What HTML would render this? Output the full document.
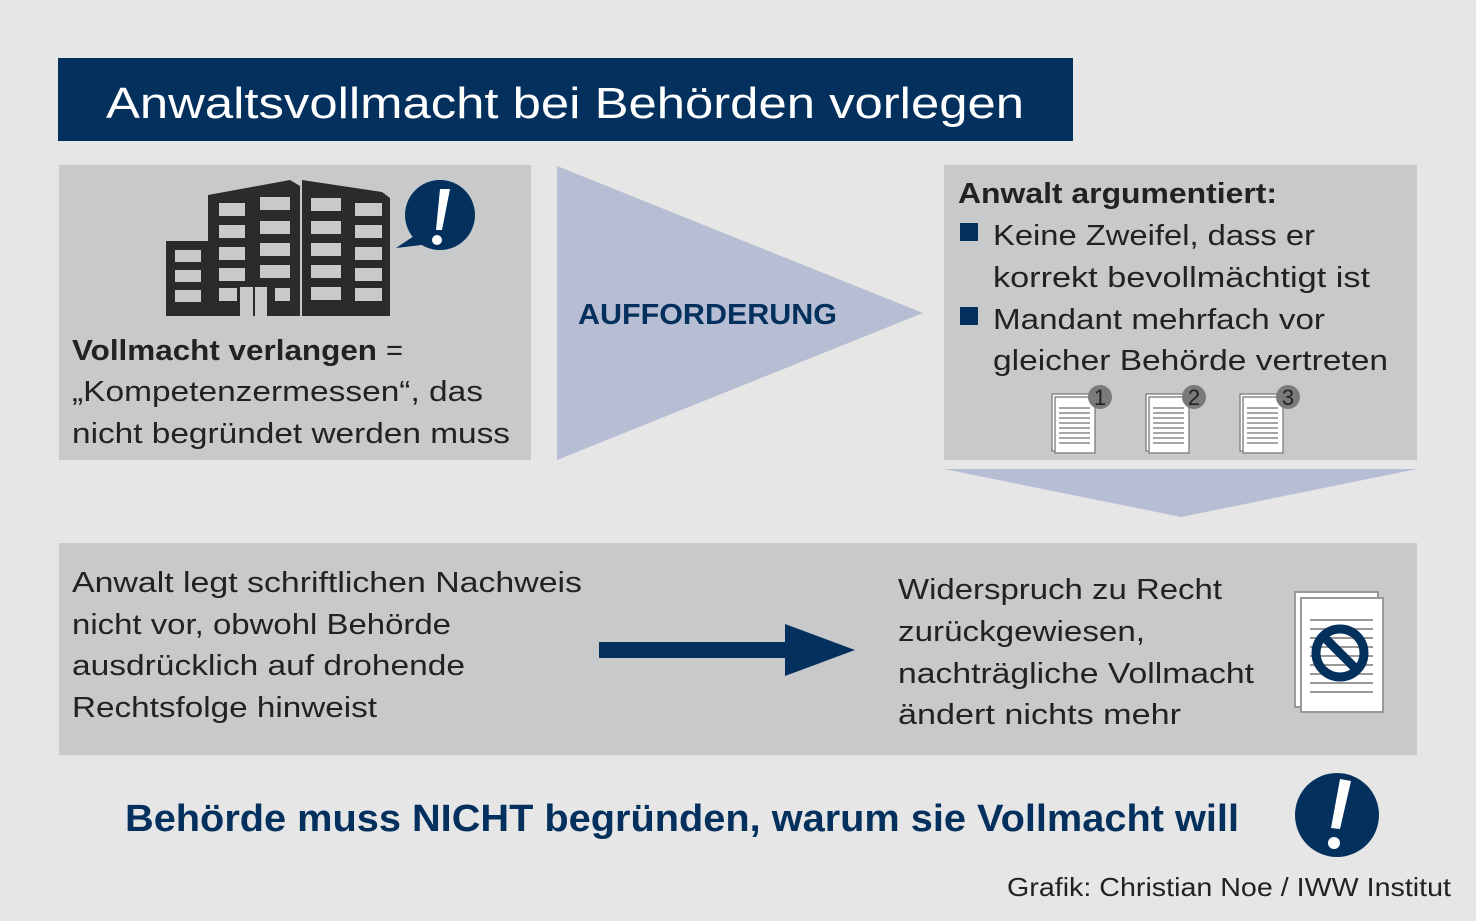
<!DOCTYPE html>
<html><head><meta charset="utf-8"><style>
html,body{margin:0;padding:0;background:#e6e6e6;}
svg{display:block;}
text{font-family:"Liberation Sans",sans-serif;}
</style></head><body>
<svg width="1476" height="921" viewBox="0 0 1476 921" xmlns="http://www.w3.org/2000/svg">
<rect width="1476" height="921" fill="#e6e6e6"/>
<rect x="58" y="58" width="1015" height="83" fill="#04305e"/>
<text x="106" y="118" font-size="44" fill="#fff" textLength="918" lengthAdjust="spacingAndGlyphs">Anwaltsvollmacht bei Behörden vorlegen</text>

<rect x="59" y="165" width="472" height="295" fill="#c8c9cb"/>
<g fill="#2b2b2b">
  <rect x="166" y="241" width="44" height="75"/>
  <polygon points="208,195 290,180 300,186 300,316 208,316"/>
  <polygon points="302,180 382,192 390,198 390,316 302,316"/>
</g>
<g fill="#c8c9cb">
  <rect x="175" y="250" width="26" height="12"/><rect x="175" y="270" width="26" height="12"/><rect x="175" y="290" width="26" height="12"/>
  <rect x="219" y="203" width="26" height="13"/><rect x="260" y="197" width="30" height="13"/>
  <rect x="219" y="225" width="26" height="13"/><rect x="260" y="221" width="30" height="13"/>
  <rect x="219" y="247" width="26" height="13"/><rect x="260" y="243" width="30" height="13"/>
  <rect x="219" y="268" width="26" height="13"/><rect x="260" y="265" width="30" height="13"/>
  <rect x="219" y="288" width="18" height="13"/><rect x="275" y="288" width="15" height="13"/>
  <rect x="240" y="287" width="13" height="29"/><rect x="255" y="287" width="12" height="29"/>
  <rect x="311" y="198" width="30" height="13"/><rect x="355" y="203" width="27" height="13"/>
  <rect x="311" y="221" width="30" height="13"/><rect x="355" y="225" width="27" height="13"/>
  <rect x="311" y="243" width="30" height="13"/><rect x="355" y="247" width="27" height="13"/>
  <rect x="311" y="265" width="30" height="13"/><rect x="355" y="268" width="27" height="13"/>
  <rect x="311" y="287" width="30" height="13"/><rect x="355" y="288" width="27" height="13"/>
</g>
<circle cx="440" cy="215" r="35" fill="#04305e"/>
<polygon points="396,248 420,232 430,244" fill="#04305e"/>
<polygon points="440,189 450,189 442,230 436,230" fill="#fff"/>
<circle cx="437" cy="240" r="5" fill="#fff"/>
<g font-size="29" fill="#222">
  <text x="72" y="360" font-weight="bold" textLength="305" lengthAdjust="spacingAndGlyphs">Vollmacht verlangen</text>
  <text x="386" y="360">=</text>
  <text x="72" y="401" textLength="411" lengthAdjust="spacingAndGlyphs">„Kompetenzermessen“, das</text>
  <text x="72" y="443" textLength="438" lengthAdjust="spacingAndGlyphs">nicht begründet werden muss</text>
</g>

<polygon points="557,166 923,313 557,460" fill="#b7bed4"/>
<text x="578" y="324" font-size="29" font-weight="bold" fill="#04305e" textLength="259" lengthAdjust="spacingAndGlyphs">AUFFORDERUNG</text>

<rect x="944" y="165" width="473" height="295" fill="#c8c9cb"/>
<g font-size="29" fill="#222">
  <text x="958" y="203" font-weight="bold" textLength="319" lengthAdjust="spacingAndGlyphs">Anwalt argumentiert:</text>
  <text x="993" y="245" textLength="322" lengthAdjust="spacingAndGlyphs">Keine Zweifel, dass er</text>
  <text x="993" y="287" textLength="377" lengthAdjust="spacingAndGlyphs">korrekt bevollmächtigt ist</text>
  <text x="993" y="329" textLength="332" lengthAdjust="spacingAndGlyphs">Mandant mehrfach vor</text>
  <text x="993" y="370" textLength="395" lengthAdjust="spacingAndGlyphs">gleicher Behörde vertreten</text>
</g>
<rect x="960" y="223" width="18" height="18" fill="#04305e"/>
<rect x="960" y="307" width="18" height="18" fill="#04305e"/>
<g id="doc">
  <rect x="1052" y="394" width="40" height="57" fill="#fff" stroke="#888" stroke-width="1.5"/>
  <rect x="1055" y="397" width="40" height="56" fill="#fff" stroke="#888" stroke-width="1.5"/>
  <g stroke="#888" stroke-width="1.5">
    <line x1="1059" y1="408" x2="1090" y2="408"/><line x1="1059" y1="413" x2="1090" y2="413"/>
    <line x1="1059" y1="418" x2="1090" y2="418"/><line x1="1059" y1="423" x2="1090" y2="423"/>
    <line x1="1059" y1="428" x2="1090" y2="428"/><line x1="1059" y1="433" x2="1090" y2="433"/>
    <line x1="1059" y1="438" x2="1090" y2="438"/><line x1="1059" y1="443" x2="1090" y2="443"/>
  </g>
  <circle cx="1100" cy="397" r="12" fill="#7a7a7a"/>
</g>
<use href="#doc" x="94"/>
<use href="#doc" x="188"/>
<g font-size="22" fill="#222" text-anchor="middle">
  <text x="1100" y="405">1</text><text x="1194" y="405">2</text><text x="1288" y="405">3</text>
</g>
<polygon points="944,469 1417,469 1181,517" fill="#b7bed4"/>

<rect x="59" y="543" width="1358" height="212" fill="#c8c9cb"/>
<g font-size="29" fill="#222">
  <text x="72" y="592" textLength="510" lengthAdjust="spacingAndGlyphs">Anwalt legt schriftlichen Nachweis</text>
  <text x="72" y="634" textLength="379" lengthAdjust="spacingAndGlyphs">nicht vor, obwohl Behörde</text>
  <text x="72" y="675" textLength="393" lengthAdjust="spacingAndGlyphs">ausdrücklich auf drohende</text>
  <text x="72" y="717" textLength="305" lengthAdjust="spacingAndGlyphs">Rechtsfolge hinweist</text>
  <text x="898" y="599" textLength="324" lengthAdjust="spacingAndGlyphs">Widerspruch zu Recht</text>
  <text x="898" y="641" textLength="247" lengthAdjust="spacingAndGlyphs">zurückgewiesen,</text>
  <text x="898" y="683" textLength="356" lengthAdjust="spacingAndGlyphs">nachträgliche Vollmacht</text>
  <text x="898" y="724" textLength="283" lengthAdjust="spacingAndGlyphs">ändert nichts mehr</text>
</g>
<rect x="599" y="642" width="190" height="16" fill="#04305e"/>
<polygon points="785,624 855,650 785,676" fill="#04305e"/>
<rect x="1295" y="592" width="83" height="115" fill="#fff" stroke="#999" stroke-width="2"/>
<rect x="1301" y="598" width="82" height="114" fill="#fff" stroke="#999" stroke-width="2"/>
<g stroke="#999" stroke-width="2">
  <line x1="1310" y1="620" x2="1373" y2="620"/><line x1="1310" y1="629" x2="1373" y2="629"/>
  <line x1="1310" y1="638" x2="1373" y2="638"/><line x1="1310" y1="647" x2="1373" y2="647"/>
  <line x1="1310" y1="656" x2="1373" y2="656"/><line x1="1310" y1="665" x2="1373" y2="665"/>
  <line x1="1310" y1="674" x2="1373" y2="674"/><line x1="1310" y1="683" x2="1373" y2="683"/>
  <line x1="1310" y1="692" x2="1373" y2="692"/>
</g>
<circle cx="1340" cy="653" r="24" fill="none" stroke="#04305e" stroke-width="9"/>
<line x1="1323" y1="636" x2="1357" y2="670" stroke="#04305e" stroke-width="9"/>

<text x="125" y="831" font-size="38" font-weight="bold" fill="#04305e" textLength="1114" lengthAdjust="spacingAndGlyphs">Behörde muss NICHT begründen, warum sie Vollmacht will</text>
<circle cx="1337" cy="815" r="42" fill="#04305e"/>
<polygon points="1340,779 1351,781 1340,829 1331,828" fill="#fff"/>
<circle cx="1334" cy="843" r="6" fill="#fff"/>
<text x="1451" y="896" font-size="26" fill="#222" text-anchor="end" textLength="444" lengthAdjust="spacingAndGlyphs">Grafik: Christian Noe / IWW Institut</text>
</svg>
</body></html>
